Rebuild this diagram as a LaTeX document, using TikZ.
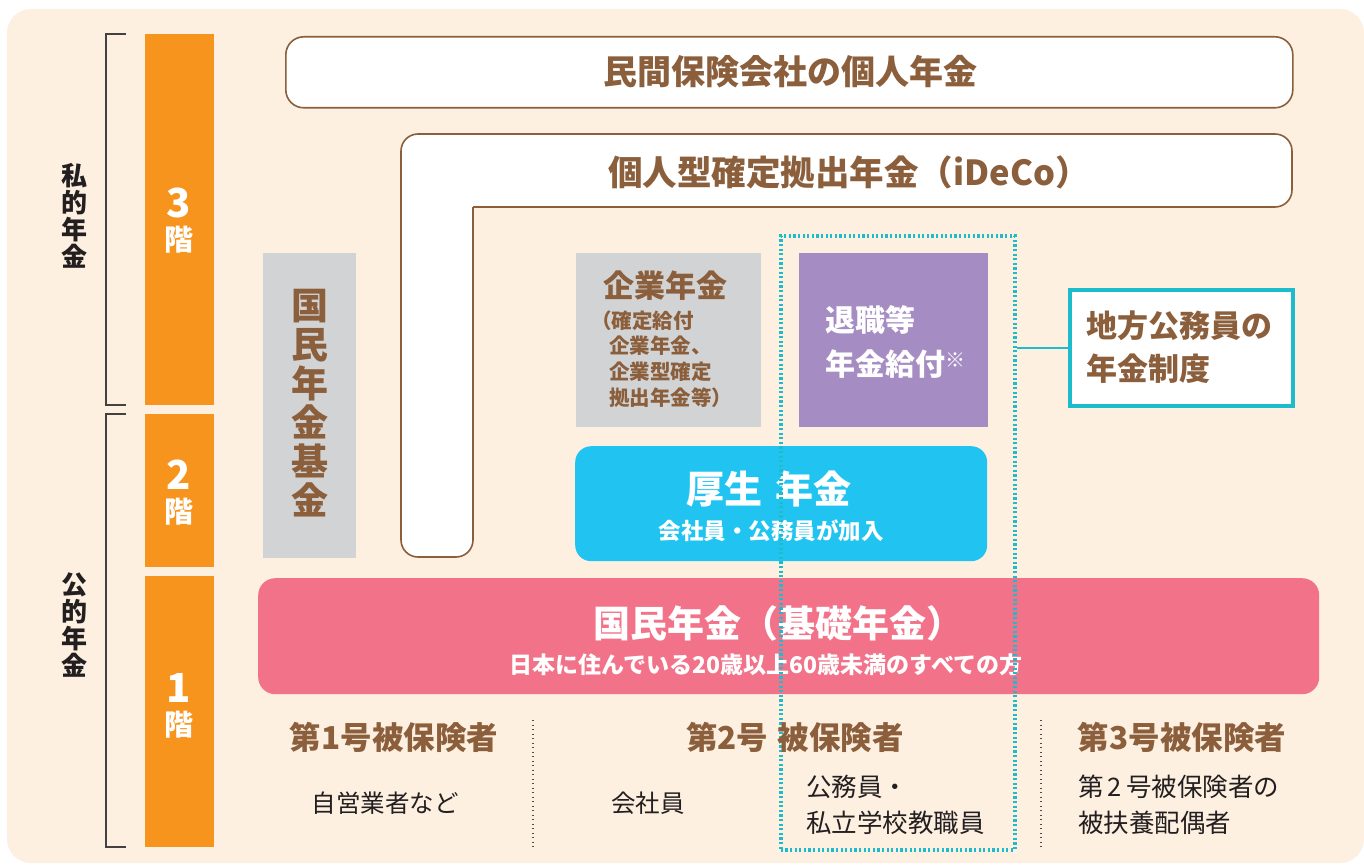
\documentclass[tikz,border=0pt]{standalone}
\usepackage{fontspec}
\setmainfont{Noto Sans CJK JP}
\usetikzlibrary{positioning}
\definecolor{bgc}{HTML}{FDF0E1}
\definecolor{orangec}{HTML}{F7941D}
\definecolor{grayc}{HTML}{D1D3D4}
\definecolor{brownc}{HTML}{8B5E3C}
\definecolor{pinkc}{HTML}{F27389}
\definecolor{bluec}{HTML}{21C3F1}
\definecolor{purplec}{HTML}{A58CC3}
\definecolor{tealc}{HTML}{1CBCCD}
\definecolor{darkc}{HTML}{231F20}
\newcommand{\fs}[2]{\fontsize{#1}{#2}\selectfont}
\tikzset{
  floorbar/.style={fill=orangec, draw=none, anchor=north west, inner sep=0},
  plainbox/.style={anchor=north west, inner sep=0},
  brownbox/.style={draw=brownc, line width=1.6pt, fill=white, rounded corners=18pt, anchor=north west, inner sep=0},
  txt/.style={inner sep=0, outer sep=0},
  browntitle/.style={txt, text=brownc, font=\bfseries\fs{31.5}{36}},
  darktxt/.style={txt, text=darkc, font=\fs{24.5}{36}},
  darktxtb/.style={txt, text=darkc, font=\fs{25.5}{36}},
  floortxt/.style={txt, text=white, font=\bfseries\fs{29}{29}},
  floornum/.style={txt, text=white, font=\bfseries\fs{40}{40}},
  bracket/.style={draw=darkc!85, line width=1.1pt},
  vdots/.style={draw=darkc!80, line width=1.3pt, dash pattern=on 1.3pt off 3.2pt},
  tealdots/.style={draw=tealc, line width=3.6pt, dash pattern=on 2.2pt off 2.4pt},
}
\begin{document}
\begin{tikzpicture}[x=1pt,y=-1pt]
\useasboundingbox (0,0) rectangle (1364,864);
\fill[white] (0,0) rectangle (1364,864);
\fill[bgc, rounded corners=24pt] (7,9) rectangle (1364,863);

% brackets
\draw[bracket] (126,34) -- (106,34) -- (106,405) -- (126,405);
\draw[bracket] (126,414) -- (106,414) -- (106,847) -- (126,847);
\node[txt, font=\bfseries\fs{26}{27}, text=darkc, align=center] (shiteki) at (74,216) {私\\的\\年\\金};
\node[txt, font=\bfseries\fs{26}{27}, text=darkc, align=center] (kouteki) at (74,625) {公\\的\\年\\金};

% floors
\node[floorbar, minimum width=69pt, minimum height=371pt] (f3) at (145,34) {};
\node[floorbar, minimum width=69pt, minimum height=153pt] (f2) at (145,414) {};
\node[floorbar, minimum width=69pt, minimum height=271pt] (f1) at (145,576) {};
\node[floornum] (n3) at (179,203) {3};
\node[floortxt] (k3) at (179,240) {階};
\node[floornum] (n2) at (179,475) {2};
\node[floortxt] (k2) at (179,512) {階};
\node[floornum] (n1) at (179,688) {1};
\node[floortxt] (k1) at (179,725) {階};

% private insurance
\node[brownbox, minimum width=1007pt, minimum height=71pt] (minkan) at (285,36) {};
\node[browntitle, font=\bfseries\fs{34}{36}] (minkant) at (790,72) {民間保険会社の個人年金};

% iDeCo L-shape
\draw[draw=brownc, line width=1.6pt, fill=white, rounded corners=17pt]
  (473,207) -- (1292,207) -- (1292,134) -- (401,134) -- (401,557) -- (473,557) -- (473,207);
\node[browntitle, font=\bfseries\fs{34.5}{36}] (ideco) at (849,172) {個人型確定拠出年金（iDeCo）};

% kokumin nenkin kikin
\node[plainbox, fill=grayc, minimum width=93pt, minimum height=305pt] (kikin) at (263,253) {};
\node[txt, text=brownc, font=\bfseries\fs{37}{39}, align=center] (kikint) at (309.5,403) {国\\民\\年\\金\\基\\金};

% kigyo nenkin
\node[plainbox, fill=grayc, minimum width=185pt, minimum height=174pt] (kigyo) at (576,253) {};
\node[browntitle, font=\bfseries\fs{31}{36}] (kigyot) at (665,286) {企業年金};
\node[txt, text=brownc, font=\bfseries\fs{20.5}{26}, anchor=west] (kg1) at (591,321) {（確定給付};
\node[txt, text=brownc, font=\bfseries\fs{20.5}{26}, anchor=west, align=left] (kg2) at (609,372) {企業年金、\\企業型確定\\拠出年金等）};

% taishoku
\node[plainbox, fill=purplec, minimum width=189pt, minimum height=174pt] (taishoku) at (799,253) {};
\node[txt, text=white, font=\bfseries\fs{30}{44}, anchor=west, align=left] (taishokut) at (825,342) {退職等\\年金給付\raisebox{8pt}{\fs{20}{20}※}};

% chiho
\node[plainbox, draw=tealc, line width=4pt, fill=white, minimum width=223pt, minimum height=116pt] (chiho) at (1068,288) {};
\node[txt, text=brownc, font=\bfseries\fs{31}{43}, anchor=west, align=left] (chihot) at (1086,347) {地方公務員の\\年金制度};

% kosei
\node[plainbox, fill=bluec, rounded corners=16pt, minimum width=412pt, minimum height=115pt] (kosei) at (575,446) {};
\node[txt, text=white, font=\bfseries\fs{38}{40}] (koseit) at (769,489) {厚生\hspace{0.35em}年金};
\node[txt, text=white, font=\bfseries\fs{22.5}{24}] (koseis) at (771,531) {会社員・公務員が加入};

% kokumin
\node[plainbox, fill=pinkc, rounded corners=17pt, minimum width=1061pt, minimum height=116pt] (kokumin) at (258,578) {};
\node[txt, text=white, font=\bfseries\fs{37}{40}] (kokumint) at (778,623) {国民年金（基礎年金）};
\node[txt, text=white, font=\bfseries\fs{23}{25}] (kokumins) at (766,665) {日本に住んでいる20歳以上60歳未満のすべての方};

% teal dotted frame
\node[plainbox, tealdots, minimum width=234pt, minimum height=614pt] (kobox) at (779,234) {};
\draw[draw=tealc, line width=1.3pt] (chiho.west) -- (chiho.west -| kobox.east);

% bottom
\node[browntitle] (g1) at (394,737) {第1号被保険者};
\node[browntitle] (g2) at (795,737) {第2号\hspace{0.3em}被保険者};
\node[browntitle] (g3) at (1182,737) {第3号被保険者};
\node[darktxt] (d1) at (385,803) {自営業者など};
\node[darktxt] (d2) at (648,803) {会社員};
\node[darktxtb, anchor=west, align=left] (d3) at (806,805) {公務員・\\私立学校教職員};
\node[darktxtb, anchor=west, align=left] (d4) at (1078,805) {第\,2\,号被保険者の\\被扶養配偶者};
\coordinate (s1t) at (533,720);
\coordinate (s1b) at (533,847);
\coordinate (s2t) at (1041,720);
\coordinate (s2b) at (1041,847);
\draw[vdots] (s1t) -- (s1b);
\draw[vdots] (s2t) -- (s2b);
\end{tikzpicture}
\end{document}
